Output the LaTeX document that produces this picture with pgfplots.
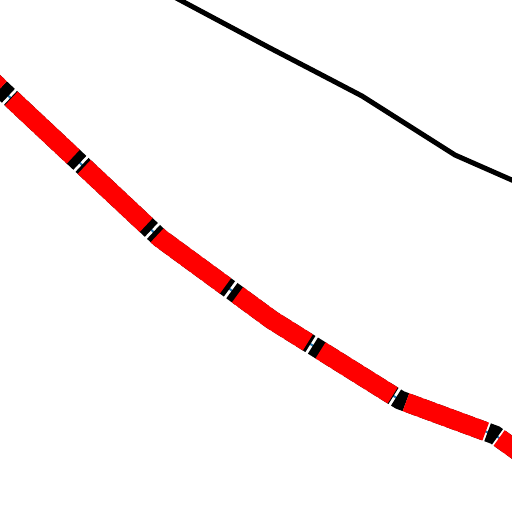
\documentclass[border=0pt]{standalone}
\usepackage{pgfplots}
\pgfplotsset{compat=1.18}
\definecolor{lineblue}{RGB}{31,119,180}

\pgfplotstableread{
x y
-20 69
0 88
160 238
272 320
400 400
495 435
530 460
}\lowerline

\pgfplotstableread{
x y
150 -16
270 48
318 73
362 96
455 155
530 188
}\upperline

\begin{document}
\begin{tikzpicture}
\begin{axis}[
    at={(0,0)}, anchor=south west,
    scale only axis,
    width=512pt, height=512pt,
    hide axis,
    xmin=0, xmax=512,
    ymin=0, ymax=512,
    y dir=reverse,
    clip=true,
]
% thin blue base line
\addplot[lineblue, line width=2pt, line join=round] table {\lowerline};
% short black dashes
\addplot[black, line width=19pt, dash pattern=on 11pt off 3pt] table {\lowerline};
% long red dashes on top
\addplot[red, line width=19pt, line join=round, dash pattern=on 85pt off 15pt, dash phase=57pt] table {\lowerline};
% upper black line
\addplot[black, line width=5pt, line join=round] table {\upperline};
\end{axis}
\pgfresetboundingbox
\useasboundingbox (0,0) rectangle (512pt,512pt);
\end{tikzpicture}
\end{document}
